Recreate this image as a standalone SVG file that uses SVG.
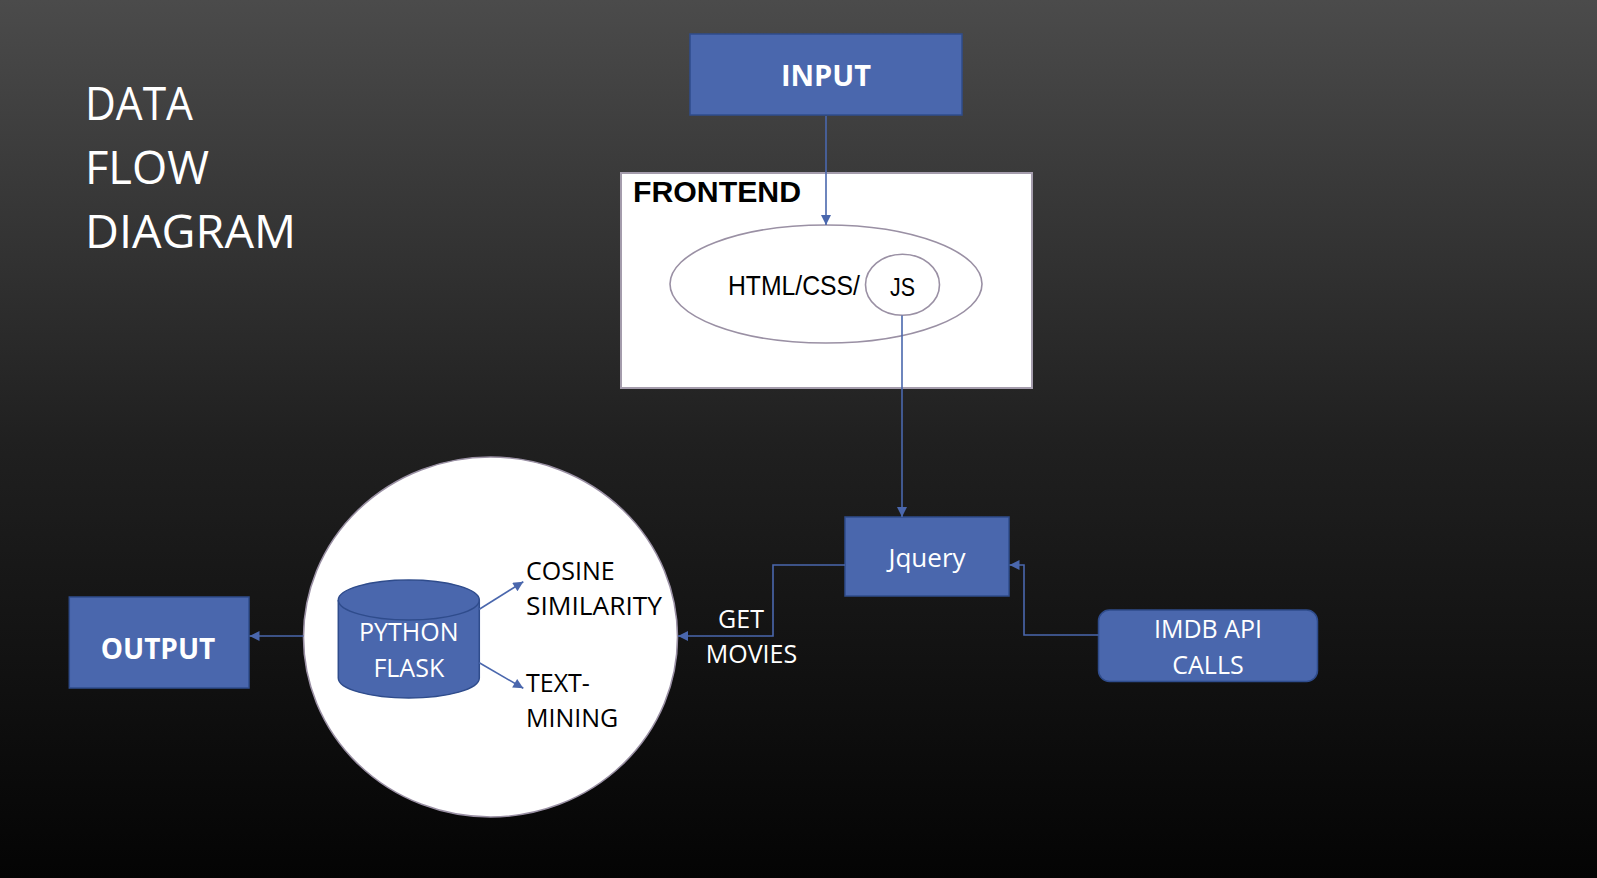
<svg xmlns="http://www.w3.org/2000/svg" width="1597" height="878" viewBox="0 0 1597 878">
<defs>
<linearGradient id="bg" x1="0" y1="0" x2="0" y2="1">
<stop offset="0" stop-color="#4b4b4b"/>
<stop offset="0.5" stop-color="#202020"/>
<stop offset="1" stop-color="#040404"/>
</linearGradient>
<marker id="arr" viewBox="0 0 10 10" refX="10" refY="5" markerWidth="11" markerHeight="10" markerUnits="userSpaceOnUse" orient="auto">
<path d="M0 0 L10 5 L0 10 Z" fill="#4a67ad"/>
</marker>
</defs>
<style>
.box{fill:#4a67ad;stroke:#2f4c8c;stroke-width:1.5}
.wt{fill:#ffffff;font-family:"Open Sans","Liberation Sans",sans-serif}
.bk{fill:#000000;font-family:"Open Sans","Liberation Sans",sans-serif}
.ar{fill:#000000;font-family:"Liberation Sans",Arial,sans-serif}
.conn{fill:none;stroke:#4a67ad;stroke-width:1.6;marker-end:url(#arr)}
.outl{fill:#ffffff;stroke:#9a90a4;stroke-width:1.6}
</style>
<rect width="1597" height="878" fill="url(#bg)"/>
<g id="title">
<text class="wt" x="85" y="120" font-size="45" textLength="108" lengthAdjust="spacingAndGlyphs">DATA</text>
<text class="wt" x="85" y="184" font-size="45" textLength="124" lengthAdjust="spacingAndGlyphs">FLOW</text>
<text class="wt" x="85" y="248" font-size="45" textLength="211" lengthAdjust="spacingAndGlyphs">DIAGRAM</text>
</g>
<g id="frontend">
<rect x="621" y="173" width="411" height="215" fill="#ffffff" stroke="#a49cac" stroke-width="2"/>
<text class="ar" x="633" y="201.5" font-size="29" font-weight="bold" textLength="168" lengthAdjust="spacingAndGlyphs">FRONTEND</text>
</g>
<g id="html-css">
<ellipse cx="826" cy="284" rx="156" ry="59" fill="#ffffff" stroke="#9a90a4" stroke-width="1.6"/>
<text class="ar" x="728" y="295" font-size="28" textLength="132" lengthAdjust="spacingAndGlyphs">HTML/CSS/</text>
</g>
<g id="js">
<ellipse cx="902.5" cy="284.7" rx="37" ry="30.5" fill="#ffffff" stroke="#9a90a4" stroke-width="1.6"/>
<text class="ar" x="890" y="296" font-size="25" textLength="25" lengthAdjust="spacingAndGlyphs">JS</text>
</g>
<g id="input">
<rect class="box" x="690" y="34" width="272" height="81"/>
<text class="wt" x="826" y="86" font-size="29" font-weight="bold" text-anchor="middle">INPUT</text>
</g>
<g id="jquery">
<rect class="box" x="845" y="517" width="164" height="79"/>
<text class="wt" x="927" y="566.5" font-size="26" text-anchor="middle">Jquery</text>
</g>
<g id="imdb">
<rect class="box" x="1098.5" y="610" width="219" height="71.5" rx="11"/>
<text class="wt" x="1208" y="637.5" font-size="25" text-anchor="middle">IMDB API</text>
<text class="wt" x="1208" y="674" font-size="25" text-anchor="middle">CALLS</text>
</g>
<g id="backend">
<ellipse class="outl" cx="490.5" cy="637" rx="187" ry="180"/>
</g>
<g id="python-flask">
<path class="box" d="M338.3 600 V678 A70.5 20 0 0 0 479.3 678 V600"/>
<ellipse class="box" cx="408.8" cy="600" rx="70.5" ry="20"/>
<text class="wt" x="408.8" y="641" font-size="25" text-anchor="middle">PYTHON</text>
<text class="wt" x="408.8" y="676.5" font-size="25" text-anchor="middle">FLASK</text>
</g>
<g id="cosine">
<text class="bk" x="526" y="580" font-size="25">COSINE</text>
<text class="bk" x="526" y="615" font-size="25" textLength="136" lengthAdjust="spacingAndGlyphs">SIMILARITY</text>
</g>
<g id="textmining">
<text class="bk" x="526" y="691.5" font-size="25">TEXT-</text>
<text class="bk" x="526" y="727" font-size="25">MINING</text>
</g>
<g id="output">
<rect class="box" x="69.3" y="597" width="179.7" height="91"/>
<text class="wt" x="158" y="659" font-size="28" font-weight="bold" text-anchor="middle">OUTPUT</text>
</g>
<g id="get-movies">
<text class="wt" x="741" y="627.5" font-size="25" text-anchor="middle">GET</text>
<text class="wt" x="751.5" y="663" font-size="25" text-anchor="middle">MOVIES</text>
</g>
<g id="connectors">
<path class="conn" d="M826 116 V225"/>
<path class="conn" d="M902 315.5 V517"/>
<path class="conn" d="M1098.5 635 H1024 V565 H1009.5"/>
<path class="conn" d="M845 565 H773 V636 H678"/>
<path class="conn" d="M303.5 636 H249.5"/>
<path class="conn" d="M479.3 609.3 L523.3 581.7"/>
<path class="conn" d="M479.3 662.7 L523.3 688.3"/>
</g>
</svg>
